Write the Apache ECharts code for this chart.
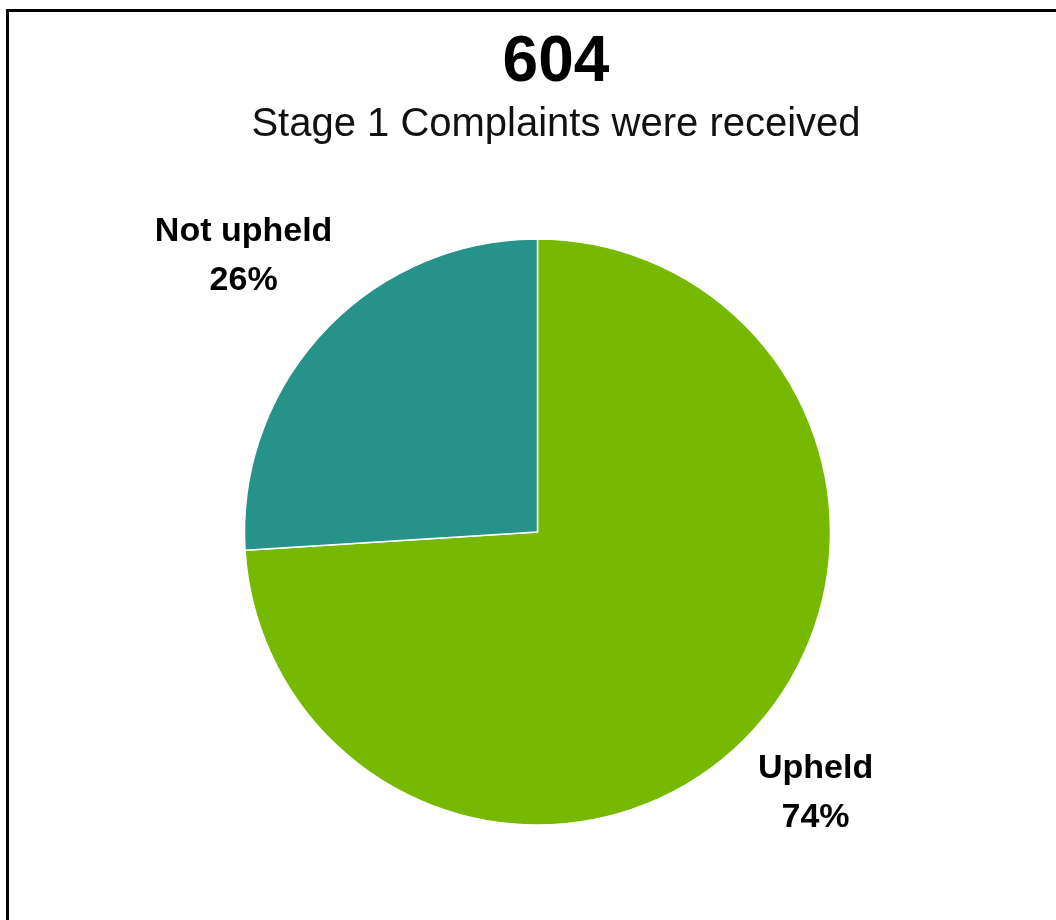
<!DOCTYPE html>
<html>
<head>
<meta charset="utf-8">
<title>Stage 1 Complaints</title>
<script src="https://cdn.jsdelivr.net/npm/echarts@6/dist/echarts.min.js"></script>
<style>
  html, body { margin: 0; padding: 0; background: #fff; }
  #chart { width: 1056px; height: 920px; }
</style>
</head>
<body>
<div id="chart"></div>
<script>
// Complaint outcomes
const totalLabel = '604';
const subtitle = 'Stage 1 Complaints were received';
const categories = ['Upheld', 'Not upheld'];
const counts = [447, 157];
const colors = ['#76B900', '#26928A'];

// Pie geometry
const CX = 537.5, CY = 532, R = 293;
const LABEL_GAP = 13;

const total = counts.reduce((a, b) => a + b, 0);
// mid angle of each slice (radians, math convention), slices run clockwise from 12 o'clock
const midAngles = [];
let acc = 0;
counts.forEach(v => {
  const mid = acc + v / 2;
  midAngles.push(Math.PI / 2 - (mid / total) * 2 * Math.PI);
  acc += v;
});

const chart = echarts.init(document.getElementById('chart'), null, { renderer: 'canvas' });

chart.setOption({
  animation: false,
  backgroundColor: '#fff',
  graphic: [
    {
      type: 'rect',
      silent: true,
      shape: { x: 7.5, y: 10.5, width: 2000, height: 2000 },
      style: { fill: 'none', stroke: '#000', lineWidth: 3 }
    },
    {
      type: 'text',
      x: 556, y: 63,
      style: {
        text: totalLabel,
        fontFamily: 'Liberation Sans, Arial, sans-serif',
        fontWeight: 'bold',
        fontSize: 64,
        fill: '#000',
        textAlign: 'center',
        textVerticalAlign: 'middle'
      }
    },
    {
      type: 'text',
      x: 556, y: 125,
      style: {
        text: subtitle,
        fontFamily: 'Liberation Sans, Arial, sans-serif',
        fontSize: 40,
        fill: '#111',
        textAlign: 'center',
        textVerticalAlign: 'middle'
      }
    }
  ],
  series: [{
    type: 'pie',
    center: [CX, CY],
    radius: R,
    startAngle: 90,
    clockwise: true,
    avoidLabelOverlap: false,
    itemStyle: { borderColor: '#fff', borderWidth: 1.5 },
    label: {
      show: true,
      position: 'outside',
      formatter: p => p.name + '\n' + Math.round(p.percent) + '%',
      fontFamily: 'Liberation Sans, Arial, sans-serif',
      fontWeight: 'bold',
      fontSize: 34,
      lineHeight: 49,
      color: '#000',
      align: 'center'
    },
    labelLine: { show: false },
    labelLayout: params => {
      // push the label box out along the slice's mid angle until its nearest corner clears the rim
      const a = midAngles[params.dataIndex];
      const c = Math.cos(a), s = Math.sin(a);
      const w = params.labelRect.width / 2, h = params.labelRect.height / 2;
      const b = w * Math.abs(c) + h * Math.abs(s);
      const d = b + Math.sqrt(b * b - (w * w + h * h) + (R + LABEL_GAP) * (R + LABEL_GAP));
      return {
        x: CX + d * c,
        y: CY - d * s,
        align: 'center',
        verticalAlign: 'middle'
      };
    },
    data: categories.map((name, i) => ({
      name,
      value: counts[i],
      itemStyle: { color: colors[i] }
    }))
  }]
});
</script>
</body>
</html>
